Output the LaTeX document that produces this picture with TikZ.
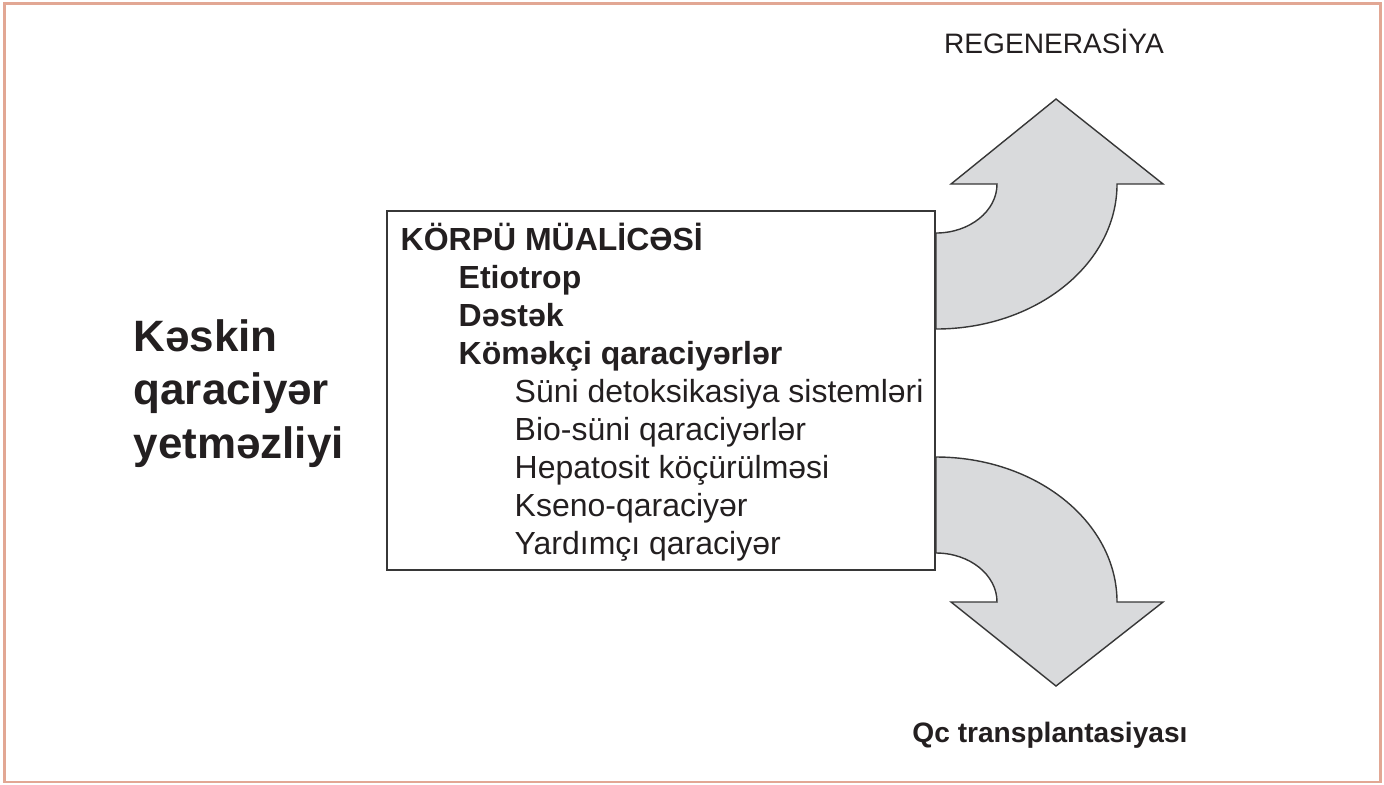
\documentclass[tikz,border=0pt]{standalone}
\usepackage{fontspec}
\setmainfont{Liberation Sans}
\usepackage{xcolor}
\definecolor{framecol}{RGB}{226,167,148}
\definecolor{shaftgray}{RGB}{217,218,220}
\definecolor{inkcol}{RGB}{35,31,32}
\definecolor{linecol}{RGB}{55,55,55}
\usetikzlibrary{positioning}
\tikzset{
  boxtext/.style={anchor=base west,inner sep=0,text=inkcol,font=\fontsize{9.1}{10.9}\selectfont},
  turnarrow/.style={draw=linecol,fill=shaftgray,line width=0.4pt,line join=miter}
}

\begin{document}
\begin{tikzpicture}
\useasboundingbox (0,0) rectangle (13.84,7.84);
%outer frame
\draw [framecol,line width=0.025cm] (0.047,0.02) rectangle (13.803,7.805);

%turning arrows
\draw [turnarrow] (9.36,5.51) arc[start angle=270,end angle=360,x radius=0.61,y radius=0.49] -- (9.51,6.00) -- (10.56,6.85) -- (11.63,6.00) -- (11.17,6.00) arc[start angle=0,end angle=-90,x radius=1.81,y radius=1.45] -- cycle;
\draw [turnarrow] (9.36,3.27) arc[start angle=90,end angle=0,x radius=1.81,y radius=1.45] -- (11.63,1.82) -- (10.56,0.98) -- (9.51,1.82) -- (9.97,1.82) arc[start angle=0,end angle=90,x radius=0.61,y radius=0.49] -- cycle;

%bridge box
\node (bridge) at (6.61,3.935) [draw=linecol,line width=0.5pt,minimum width=5.48cm,minimum height=3.59cm,inner sep=0] {};
\node (head) at (4.00,5.34) [boxtext] {\bfseries KÖRPÜ MÜALİCƏSİ};
\node (etio) at (4.58,4.96) [boxtext] {\bfseries Etiotrop};
\node (destek) at (4.58,4.58) [boxtext] {\bfseries Dəstək};
\node (komek) at (4.58,4.20) [boxtext] {\bfseries Köməkçi qaraciyərlər};
\foreach \t [count=\i] in {Süni detoksikasiya sistemləri,Bio-süni qaraciyərlər,Hepatosit köçürülməsi,Kseno-qaraciyər,Yardımçı qaraciyər}{
  \node (sub\i) at (5.14,{4.20-0.38*\i}) [boxtext] {\t};
}

%labels
\node (title) at (1.33,3.26) [anchor=base west,align=left,inner sep=0,text=inkcol,font=\fontsize{12.5}{15.1}\selectfont\bfseries] {Kəskin\\qaraciyər\\yetməzliyi};
\node (regen) at (10.54,7.31) [anchor=base,inner sep=0,text=inkcol,font=\fontsize{8}{9.6}\selectfont] {REGENERASİYA};
\node (transp) at (10.50,0.42) [anchor=base,inner sep=0,text=inkcol,font=\fontsize{8}{9.6}\selectfont\bfseries] {Qc transplantasiyası};
\end{tikzpicture}
\end{document}
